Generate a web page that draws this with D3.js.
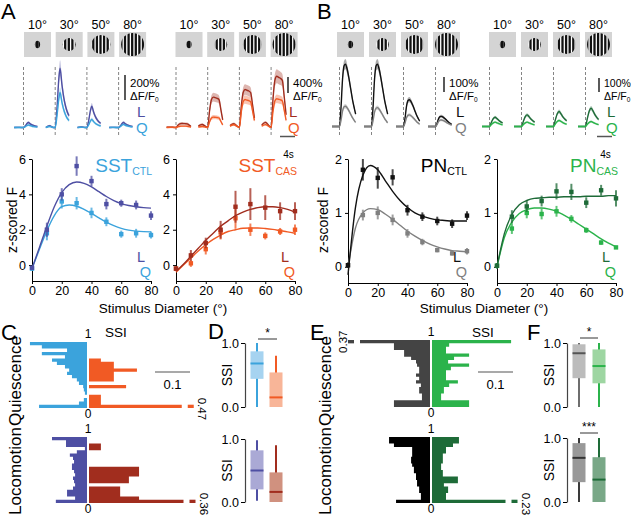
<!DOCTYPE html>
<html>
<head>
<meta charset="utf-8">
<script src="https://cdn.jsdelivr.net/npm/d3@7"></script>
<style>
  body { margin: 0; background: #fff; }
  svg { display: block; font-family: "Liberation Sans", Arial, Helvetica, sans-serif; }
</style>
</head>
<body>
<svg id="fig" width="631" height="516"></svg>
<script>
// ---------------- data ----------------
const sizes = [10, 30, 50, 80];
const sizeLabels = ["10°", "30°", "50°", "80°"];

// mean response traces (template shape over time, s) and peak amplitudes (% dF/F0) per size
const sstCtlT = [-2.5, -1.5, -0.5, 0, 0.5, 1, 1.3, 1.8, 2.3, 2.8, 3.3, 3.7];
const sstCtlShape = [0, 0.03, 0, 0, 0.35, 0.85, 1, 0.72, 0.5, 0.35, 0.25, 0.2];
const sstCtlAmpL = [40, 475, 170, 40];
const sstCtlAmpQ = [20, 280, 65, 25];

const sstCasT = [-2.5, -1.5, -0.5, 0, 0.5, 1, 1.5, 2, 2.5, 3, 3.5, 4];
const sstCasShape = [0.05, 0.1, 0.03, 0, 0.55, 0.92, 1, 0.98, 0.96, 0.92, 0.6, 0.25];
const sstCasAmpL = [100, 760, 950, 1280];
const sstCasAmpQ = [35, 260, 700, 720];

const pnCtlT = [-2, -1, 0, 0.4, 0.8, 1.2, 1.6, 2, 2.5, 3, 3.5, 4, 4.3];
const pnCtlShape = [0, 0, 0, 0.3, 0.75, 0.97, 1, 0.93, 0.78, 0.6, 0.42, 0.28, 0.2];
const pnCtlAmpL = [430, 430, 185, 70];
const pnCtlAmpQ = [140, 130, 80, 45];

const pnCasT = [-2, -1, 0, 0.5, 1, 1.5, 2, 2.5, 3, 3.5];
const pnCasShape = [0, 0, 0, 0.45, 0.85, 1, 0.85, 0.65, 0.5, 0.38];
const pnCasAmpL = [64, 80, 103, 126];
const pnCasAmpQ = [30, 30, 41, 34];

// size tuning (z-scored F), mean and SEM at each diameter, and fitted curves
const diam = [0, 10, 20, 30, 40, 50, 60, 70, 80];
const fitDiam = [0, 5, 10, 15, 20, 25, 30, 35, 40, 45, 50, 55, 60, 65, 70, 75, 80];

const sstCtlL = [-0.15, 2.0, 4.0, 5.6, 4.75, 3.45, 3.5, 3.4, 2.8];
const sstCtlLerr = [0.1, 0.4, 0.35, 0.55, 0.3, 0.3, 0.2, 0.25, 0.25];
const sstCtlQ = [-0.2, 1.8, 3.6, 3.5, 2.95, 2.45, 1.75, 1.8, 1.7];
const sstCtlQerr = [0.1, 0.4, 0.4, 0.35, 0.3, 0.25, 0.2, 0.25, 0.2];
const sstCtlFitL = [-0.2, 1.0, 2.2, 3.3, 4.1, 4.55, 4.7, 4.62, 4.42, 4.15, 3.88, 3.65, 3.48, 3.37, 3.3, 3.25, 3.22];
const sstCtlFitQ = [-0.2, 0.9, 1.95, 2.8, 3.3, 3.4, 3.33, 3.15, 2.92, 2.67, 2.43, 2.23, 2.08, 1.98, 1.92, 1.89, 1.88];

const sstCasL = [-0.2, 0.55, 1.25, 2.0, 3.3, 3.45, 3.25, 3.05, 3.05];
const sstCasLerr = [0.1, 0.3, 0.3, 0.5, 0.9, 0.9, 0.7, 0.5, 0.5];
const sstCasQ = [-0.2, 0.1, 0.9, 1.85, 2.65, 2.0, 1.65, 1.9, 2.0];
const sstCasQerr = [0.1, 0.2, 0.3, 0.4, 0.6, 0.35, 0.2, 0.2, 0.3];
const sstCasFitL = [-0.35, 0.05, 0.5, 0.95, 1.4, 1.8, 2.2, 2.5, 2.8, 3.0, 3.15, 3.25, 3.3, 3.3, 3.25, 3.15, 3.0];
const sstCasFitQ = [-0.4, 0.0, 0.4, 0.8, 1.15, 1.45, 1.7, 1.9, 2.0, 2.08, 2.1, 2.1, 2.07, 2.02, 1.95, 1.88, 1.8];

const pnCtlL = [0.03, 1.8, 1.65, 1.66, 1.05, 0.93, 0.85, 0.8, 0.95];
const pnCtlLerr = [0.05, 0.2, 0.2, 0.15, 0.1, 0.08, 0.08, 0.08, 0.08];
const pnCtlQ = [0.03, 0.96, 1.0, 0.87, 0.62, 0.46, 0.31, 0.25, 0.29];
const pnCtlQerr = [0.05, 0.1, 0.12, 0.1, 0.08, 0.06, 0.04, 0.04, 0.06];
const pnCtlFitL = [-0.15, 1.1, 1.7, 1.88, 1.8, 1.6, 1.4, 1.23, 1.1, 1.0, 0.94, 0.9, 0.87, 0.86, 0.85, 0.85, 0.85];
const pnCtlFitQ = [0.0, 0.72, 1.0, 1.08, 1.06, 0.98, 0.88, 0.77, 0.66, 0.57, 0.49, 0.42, 0.37, 0.33, 0.3, 0.29, 0.28];

const pnCasL = [0.02, 0.93, 1.12, 1.22, 1.4, 1.39, 1.19, 1.42, 1.27];
const pnCasLerr = [0.05, 0.12, 0.1, 0.1, 0.15, 0.15, 0.1, 0.1, 0.15];
const pnCasQ = [0.02, 0.71, 1.0, 0.98, 1.03, 0.89, 0.68, 0.45, 0.36];
const pnCasQerr = [0.05, 0.1, 0.1, 0.1, 0.1, 0.07, 0.05, 0.04, 0.03];
const pnCasFitL = [0.0, 0.62, 0.97, 1.15, 1.23, 1.27, 1.28, 1.29, 1.29, 1.3, 1.3, 1.3, 1.31, 1.31, 1.31, 1.32, 1.32];
const pnCasFitQ = [0.0, 0.55, 0.83, 0.99, 1.06, 1.09, 1.09, 1.07, 1.03, 0.96, 0.88, 0.79, 0.7, 0.61, 0.52, 0.44, 0.37];

// SSI histograms: fraction of cells per 0.05 bin, listed from SSI = 1 (top) down to 0
const ssiSstCtlQ = [0.163, 0.129, 0.057, 0.129, 0.063, 0.1, 0.086, 0.063, 0.051, 0.057, 0.043, 0.029, 0.023, 0.011, 0.009, 0.006, 0, 0.009, 0.023, 0.137];
const ssiSstCasQ = [0, 0, 0, 0, 0, 0.034, 0.071, 0.071, 0.137, 0.071, 0.071, 0.071, 0, 0.106, 0, 0, 0.034, 0.034, 0.034, 0.47];
const ssiSstCtlL = [0.1, 0.06, 0.06, 0.006, 0.029, 0.049, 0.04, 0.037, 0.043, 0.043, 0.037, 0.034, 0.04, 0.037, 0.034, 0.04, 0.057, 0.057, 0.034, 0.089];
const ssiSstCasL = [0, 0, 0.034, 0.034, 0, 0, 0, 0, 0, 0.143, 0.143, 0.143, 0.114, 0.114, 0, 0.089, 0.089, 0.089, 0.143, 0.36];
const ssiPnCtlQ = [0.37, 0.103, 0.103, 0.074, 0.074, 0.054, 0.04, 0.037, 0.031, 0.031, 0.04, 0.031, 0.04, 0.026, 0.031, 0.031, 0.023, 0.023, 0.103, 0.103];
const ssiPnCasQ = [0.226, 0.049, 0.04, 0.04, 0.106, 0.063, 0.046, 0.106, 0.054, 0.04, 0.04, 0.04, 0.074, 0.049, 0.034, 0.034, 0.026, 0.026, 0.106, 0.106];
const ssiPnCtlL = [0.117, 0.117, 0.103, 0.051, 0.051, 0.051, 0.054, 0.054, 0.051, 0.046, 0.046, 0.04, 0.04, 0.037, 0.037, 0.031, 0.031, 0.026, 0.026, 0.097];
const ssiPnCasL = [0.077, 0.077, 0.06, 0.04, 0.04, 0.031, 0.031, 0.031, 0.026, 0.026, 0.031, 0.031, 0.074, 0.074, 0.034, 0.046, 0.046, 0.04, 0.04, 0.23];

// SSI box plots: [whisker low, q1, median, q3, whisker high]
const boxSstQ = [[0, 0.44, 0.68, 0.87, 1.0], [0, 0, 0.15, 0.54, 0.8]];
const boxSstL = [[0.02, 0.2, 0.5, 0.82, 0.98], [0, 0, 0.16, 0.47, 0.9]];
const boxPnQ = [[0, 0.45, 0.84, 0.98, 1.0], [0, 0.37, 0.64, 0.9, 1.0]];
const boxPnL = [[0, 0.31, 0.69, 0.92, 1.0], [0, 0, 0.35, 0.7, 1.0]];

// ---------------- colours ----------------
const C = {
  sstCtlL: "#4e4fa3", sstCtlQ: "#3ba3dc",
  sstCasL: "#a12d1e", sstCasQ: "#f15a24",
  pnCtlL: "#111111", pnCtlQ: "#808080",
  pnCasL: "#1e6b38", pnCasQ: "#2bb34b"
};

const svg = d3.select("#fig");
svg.append("rect").attr("width", 631).attr("height", 516).attr("fill", "#fff");
let clipCount = 0;

function txt(x, y, s, size, opts = {}) {
  const t = svg.append("text").attr("x", x).attr("y", y)
    .attr("font-size", size).attr("fill", opts.fill || "#000")
    .attr("text-anchor", opts.anchor || "start").text(s);
  if (opts.rotate !== undefined) t.attr("transform", `rotate(${opts.rotate},${x},${y})`);
  return t;
}

// ---------------- panel letters ----------------
[["A", 1, 19], ["B", 317, 19], ["C", 1, 340], ["D", 208, 339], ["E", 310, 340], ["F", 527, 340]]
  .forEach(([s, x, y]) => txt(x, y, s, 22));

// ---------------- stimuli ----------------
const rScale = d3.scaleLinear().domain([0, 10, 30, 50, 80]).range([0, 2.6, 6.5, 9.5, 11.5]);
function stimRow(cx0, step) {
  sizes.forEach((s, i) => {
    const cx = cx0 + i * step, cy = 44.5;
    svg.append("rect").attr("x", cx - 13.5).attr("y", cy - 12.5)
      .attr("width", 27).attr("height", 25).attr("fill", "#d4d4d4");
    const r = rScale(s);
    const id = "clip" + (clipCount++);
    svg.append("clipPath").attr("id", id)
      .append("ellipse").attr("cx", cx).attr("cy", cy).attr("rx", r).attr("ry", r * (s === 10 ? 1.4 : 1));
    const g = svg.append("g").attr("clip-path", `url(#${id})`);
    g.append("rect").attr("x", cx - r).attr("y", cy - 2 * r).attr("width", 2 * r).attr("height", 4 * r).attr("fill", "#fff");
    const period = 3.6, n = Math.ceil(r / period) + 1;
    const sw = s === 10 ? 3.4 : 2.3;
    for (let k = -n; k <= n; k++) {
      g.append("rect").attr("x", cx + k * period - sw / 2 - 0.4).attr("y", cy - 2 * r)
        .attr("width", sw).attr("height", 4 * r).attr("fill", "#111");
    }
    txt(cx, 29, sizeLabels[i], 12.5, { anchor: "middle" });
  });
}
stimRow(37.5, 31.7);
stimRow(189, 31.7);
stimRow(350.5, 32);
stimRow(502.5, 32);

// ---------------- traces ----------------
const tScale = d3.scaleLinear().domain([0, 4]).range([0, 15]);
function traceRow(cx0, step, off, baseY, T, S, ampL, ampQ, px100, colL, colQ, sem) {
  const aScale = d3.scaleLinear().domain([0, 100]).range([0, px100]);
  sizes.forEach((s, i) => {
    const onset = cx0 + i * step + off;
    svg.append("line").attr("x1", onset).attr("x2", onset).attr("y1", 67).attr("y2", 135)
      .attr("stroke", "#777").attr("stroke-width", 0.9).attr("stroke-dasharray", "3,2");
    [[ampL[i], colL], [ampQ[i], colQ]].forEach(([amp, col]) => {
      const pts = T.map((t, k) => ({ t, v: S[k] * amp }));
      const x = d => onset + tScale(d.t);
      svg.append("path").datum(pts)
        .attr("d", d3.area().x(x)
          .y0(d => baseY - aScale(d.v * (1 - sem)) + 0.8)
          .y1(d => baseY - aScale(d.v * (1 + sem)) - 0.8)
          .curve(d3.curveMonotoneX))
        .attr("fill", col).attr("opacity", 0.35);
      svg.append("path").datum(pts)
        .attr("d", d3.line().x(x).y(d => baseY - aScale(d.v)).curve(d3.curveMonotoneX))
        .attr("fill", "none").attr("stroke", col).attr("stroke-width", 1.4);
    });
  });
}
traceRow(37.5, 31.7, -14, 127.5, sstCtlT, sstCtlShape, sstCtlAmpL, sstCtlAmpQ, 12.5, C.sstCtlL, C.sstCtlQ, 0.12);
traceRow(189, 31.7, -13, 127.5, sstCasT, sstCasShape, sstCasAmpL, sstCasAmpQ, 4, C.sstCasL, C.sstCasQ, 0.12);
traceRow(350.5, 32, -11, 126.5, pnCtlT, pnCtlShape, pnCtlAmpL, pnCtlAmpQ, 14.5, C.pnCtlL, C.pnCtlQ, 0.07);
traceRow(502.5, 32, -13, 126.5, pnCasT, pnCasShape, pnCasAmpL, pnCasAmpQ, 14.5, C.pnCasL, C.pnCasQ, 0.08);

// dF/F scale bars
function dffBar(x, y1, y2, label, fs) {
  svg.append("line").attr("x1", x).attr("x2", x).attr("y1", y1).attr("y2", y2)
    .attr("stroke", "#000").attr("stroke-width", 1.3);
  txt(x + 5, 87, label, fs);
  const t = txt(x + 5, 100, "ΔF/F", fs);
  t.append("tspan").attr("font-size", 6.5).attr("dy", 2).text("0");
}
dffBar(125, 75, 100, "200%", 11.5);
dffBar(288, 77, 93, "400%", 11.5);
dffBar(444, 77, 92, "100%", 11.5);
dffBar(599, 78, 92, "100%", 10.5);

// L / Q labels by traces
[[137, C.sstCtlL, C.sstCtlQ], [289, C.sstCasL, C.sstCasQ], [456, C.pnCtlL, C.pnCtlQ], [607, C.pnCasL, C.pnCasQ]]
  .forEach(([x, cl, cq]) => {
    txt(x, 117, "L", 15, { fill: cl });
    txt(x - 1, 133, "Q", 15, { fill: cq });
  });

// 4 s time bars
[[280, 295], [597, 612]].forEach(([a, b]) => {
  svg.append("line").attr("x1", a).attr("x2", b).attr("y1", 136.5).attr("y2", 136.5)
    .attr("stroke", "#555").attr("stroke-width", 1.5);
  txt((a + b) / 2 + 1, 158, "4s", 10, { anchor: "middle" });
});

// ---------------- size tuning plots ----------------
function styleAxis(g) {
  g.attr("font-family", null).attr("font-size", 12.5);
  g.selectAll("path,line").attr("stroke", "#000");
  g.selectAll("text").attr("fill", "#000");
}
function tuning(x0, x1, yBot, yDomain, yTicks, L, Lerr, Q, Qerr, fitL, fitQ, colL, colQ) {
  const x = d3.scaleLinear().domain([0, 80]).range([x0, x1]);
  const y = d3.scaleLinear().domain(yDomain).range([yBot, 159]);
  svg.append("g").attr("transform", `translate(0,${yBot})`)
    .call(d3.axisBottom(x).tickValues([0, 20, 40, 60, 80]).tickSize(3).tickSizeOuter(0).tickPadding(2))
    .call(styleAxis);
  svg.append("g").attr("transform", `translate(${x0},0)`)
    .call(d3.axisLeft(y).tickValues(yTicks).tickFormat(d3.format("d")).tickSize(3).tickSizeOuter(0).tickPadding(3))
    .call(styleAxis);
  const line = d3.line().x((d, i) => x(fitDiam[i])).y(d => y(d)).curve(d3.curveMonotoneX);
  [[Q, Qerr, fitQ, colQ], [L, Lerr, fitL, colL]].forEach(([m, e, f, col]) => {
    svg.append("path").datum(f).attr("d", line).attr("fill", "none")
      .attr("stroke", col).attr("stroke-width", 1.4);
    const g = svg.append("g");
    g.selectAll("line").data(m).join("line")
      .attr("x1", (d, i) => x(diam[i])).attr("x2", (d, i) => x(diam[i]))
      .attr("y1", (d, i) => y(d - e[i])).attr("y2", (d, i) => y(d + e[i]))
      .attr("stroke", col).attr("stroke-width", 2).attr("opacity", 0.75);
    g.selectAll("rect").data(m).join("rect")
      .attr("x", (d, i) => x(diam[i]) - 2.2).attr("y", d => y(d) - 2.2)
      .attr("width", 4.4).attr("height", 4.4).attr("fill", col);
  });
  txt(x1 - 6, 262, "L", 14.5, { fill: colL, anchor: "end" });
  txt(x1 - 0, 277, "Q", 14.5, { fill: colQ, anchor: "end" });
}
tuning(32, 151, 281, [-0.9, 6], [0, 2, 4, 6], sstCtlL, sstCtlLerr, sstCtlQ, sstCtlQerr, sstCtlFitL, sstCtlFitQ, C.sstCtlL, C.sstCtlQ);
tuning(176, 295, 281, [-0.9, 6], [0, 2, 4, 6], sstCasL, sstCasLerr, sstCasQ, sstCasQerr, sstCasFitL, sstCasFitQ, C.sstCasL, C.sstCasQ);
tuning(348, 467, 283, [-0.3, 2], [0, 1, 2], pnCtlL, pnCtlLerr, pnCtlQ, pnCtlQerr, pnCtlFitL, pnCtlFitQ, C.pnCtlL, C.pnCtlQ);
tuning(497, 616, 283, [-0.3, 2], [0, 1, 2], pnCasL, pnCasLerr, pnCasQ, pnCasQerr, pnCasFitL, pnCasFitQ, C.pnCasL, C.pnCasQ);

function title(xEnd, main, sub, col) {
  const t = svg.append("text").attr("x", xEnd).attr("y", 172).attr("text-anchor", "end").attr("fill", col);
  t.append("tspan").attr("font-size", 19).text(main);
  t.append("tspan").attr("font-size", 10.5).attr("dy", 3).text(sub);
}
title(152, "SST", "CTL", C.sstCtlQ);
title(297, "SST", "CAS", C.sstCasQ);
title(467, "PN", "CTL", "#000");
title(618, "PN", "CAS", C.pnCasQ);

txt(17, 220, "z-scored F", 14, { anchor: "middle", rotate: -90 });
txt(328, 220, "z-scored F", 14, { anchor: "middle", rotate: -90 });
txt(163, 313, "Stimulus Diameter (°)", 13.5, { anchor: "middle" });
txt(484, 313, "Stimulus Diameter (°)", 13.5, { anchor: "middle" });

// ---------------- SSI histograms ----------------
const wScale = d3.scaleLinear().domain([0, 0.1]).range([0, 35]);
function histo(cx, yTop, yBot, left, right, colLeft, colRight, capL, capR) {
  const y = d3.scaleLinear().domain([0, 1]).range([yBot, yTop]);
  const nb = left.length, bw = 1 / nb;
  const drawSide = (vals, col, dir, cap) => {
    const base = cx + dir;
    const pts = [[base, y(1)]];
    vals.forEach((v, i) => {
      const top = y(1 - i * bw), bot = y(1 - (i + 1) * bw);
      const shown = cap && v > cap ? cap : v;
      const edge = base + dir * wScale(shown);
      pts.push([edge, top], [edge, bot]);
      if (cap && v > cap) {
        const sx = dir > 0 ? edge + 6 : edge - 12;
        svg.append("rect").attr("x", sx).attr("y", top).attr("width", 6).attr("height", bot - top).attr("fill", col);
        const lbl = String(v);
        if (dir > 0) txt(sx + 10, top - 7, lbl, 11.5, { rotate: 90 });
        else txt(sx - 1, (top + bot) / 2, lbl, 11.5, { rotate: -90, anchor: "middle" });
      }
    });
    pts.push([base, y(0)]);
    svg.append("path").attr("d", d3.line()(pts) + "Z").attr("fill", col);
  };
  drawSide(left, colLeft, -1, capL);
  drawSide(right, colRight, 1, capR);
  txt(cx, yTop - 4, "1", 12, { anchor: "middle" });
  txt(cx, yBot + 10, "0", 12, { anchor: "middle" });
}
histo(88, 342, 408, ssiSstCtlQ, ssiSstCasQ, C.sstCtlQ, C.sstCasQ, null, 0.265);
histo(88, 437, 503, ssiSstCtlL, ssiSstCasL, C.sstCtlL, C.sstCasL, null, 0.27);
histo(431, 340, 407, ssiPnCtlQ, ssiPnCasQ, "#444444", C.pnCasQ, 0.2, null);
histo(431, 437, 503, ssiPnCtlL, ssiPnCasL, "#000000", C.pnCasL, null, 0.21);

txt(116, 337, "SSI", 13.5, { anchor: "middle" });
txt(483, 337, "SSI", 13.5, { anchor: "middle" });
function scale01(a, b) {
  svg.append("line").attr("x1", a).attr("x2", b).attr("y1", 372).attr("y2", 372)
    .attr("stroke", "#555").attr("stroke-width", 1.2);
  txt((a + b) / 2, 389, "0.1", 13, { anchor: "middle" });
}
scale01(155, 190);
scale01(478, 513);

txt(21, 381, "Quiescence", 17, { anchor: "middle", rotate: -90 });
txt(21, 471, "Locomotion", 17, { anchor: "middle", rotate: -90 });
txt(331, 381, "Quiescence", 17, { anchor: "middle", rotate: -90 });
txt(331, 471, "Locomotion", 17, { anchor: "middle", rotate: -90 });

// ---------------- SSI box plots ----------------
function boxes(ax, yTop, yBot, data, xs, lineCols, fillCols, medCols) {
  const y = d3.scaleLinear().domain([0, 1]).range([yBot, yTop]);
  svg.append("g").attr("transform", `translate(${ax},0)`)
    .call(d3.axisLeft(y).tickValues([0, 1]).tickSize(4).tickSizeOuter(0).tickPadding(2))
    .call(styleAxis)
    .call(g => g.select(".domain").attr("stroke", "#444").attr("stroke-width", 1.2));
  data.forEach((b, i) => {
    const x = xs[i];
    svg.append("line").attr("x1", x).attr("x2", x).attr("y1", y(b[0])).attr("y2", y(b[4]))
      .attr("stroke", lineCols[i]).attr("stroke-width", 2);
    svg.append("rect").attr("x", x - 6.5).attr("y", y(b[3])).attr("width", 13)
      .attr("height", Math.max(0, y(b[1]) - y(b[3]))).attr("fill", fillCols[i]);
    svg.append("line").attr("x1", x - 6.5).attr("x2", x + 6.5).attr("y1", y(b[2])).attr("y2", y(b[2]))
      .attr("stroke", medCols[i]).attr("stroke-width", 2);
  });
  txt(ax - 13, (yTop + yBot) / 2, "SSI", 14, { anchor: "middle", rotate: -90 });
}
boxes(245, 343, 407, boxSstQ, [257, 276], [C.sstCtlQ, C.sstCasQ], ["#a6d3f0", "#f8b598"], [C.sstCtlQ, C.sstCasQ]);
boxes(245, 439, 502, boxSstL, [257, 276], [C.sstCtlL, C.sstCasL], ["#aaa9d5", "#d0917f"], [C.sstCtlL, C.sstCasL]);
boxes(567, 343, 407, boxPnQ, [579, 599], ["#6e6e6e", C.pnCasQ], ["#bcbcbc", "#9ed6a2"], ["#555555", C.pnCasQ]);
boxes(567, 438, 502, boxPnL, [579, 599], ["#3a3a3a", C.pnCasL], ["#999999", "#79a887"], ["#333333", C.pnCasL]);

function sig(a, b, y, s) {
  svg.append("line").attr("x1", a).attr("x2", b).attr("y1", y).attr("y2", y)
    .attr("stroke", "#333").attr("stroke-width", 1);
  txt((a + b) / 2, y - 2, s, 12, { anchor: "middle" });
}
sig(258, 277, 339, "*");
sig(580, 598, 338, "*");
sig(580, 598, 433, "***");
</script>
</body>
</html>
